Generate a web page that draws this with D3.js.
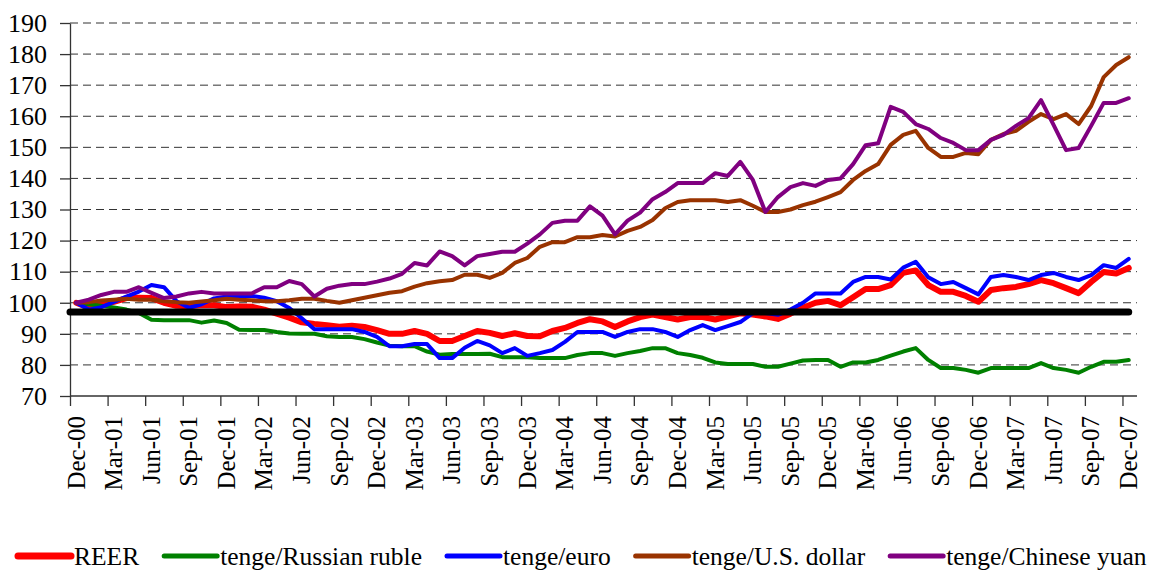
<!DOCTYPE html>
<html>
<head>
<meta charset="utf-8">
<script src="https://cdn.jsdelivr.net/npm/d3@7"></script>
<style>
  body { margin: 0; background: #fff; }
  text { font-family: "Liberation Serif", "Times New Roman", serif; fill: #000; }
</style>
</head>
<body>
<svg width="1153" height="570"></svg>
<script>
// monthly index values, Dec-00 = 100
var months = d3.timeMonth.range(new Date(2000, 11, 1), new Date(2008, 0, 1));
var tickLabels = ['Dec-00','Mar-01','Jun-01','Sep-01','Dec-01','Mar-02','Jun-02','Sep-02','Dec-02','Mar-03','Jun-03','Sep-03','Dec-03','Mar-04','Jun-04','Sep-04','Dec-04','Mar-05','Jun-05','Sep-05','Dec-05','Mar-06','Jun-06','Sep-06','Dec-06','Mar-07','Jun-07','Sep-07','Dec-07'];
var yTicks = [70,80,90,100,110,120,130,140,150,160,170,180,190];

var reer = [100,98.4,99.4,100.3,101.5,101.6,101.5,100,99,98.9,99.3,99.2,98.6,98.8,98.7,97.8,96.5,95.2,93.7,93.2,
  92.8,92.3,92.6,92.2,91.2,90,90,90.9,90,87.7,87.7,89.3,90.9,90.3,89.3,90.2,89.3,89.2,90.9,91.9,
  93.5,94.7,94,92.2,94,95.4,96.2,95.4,94.6,95.4,95.4,94.6,95.6,96.6,96.2,95.6,94.8,96.5,98.4,100,
  100.6,99.2,101.8,104.4,104.4,105.7,109.6,110.4,105.7,103.5,103.5,102.2,100.3,104.1,104.7,105.1,106,107.3,106.3,104.7,
  103.1,106.7,109.9,109.4,111.2];
var ruble = [100,99.5,99,98.5,97.8,96.7,94.5,94.4,94.4,94.4,93.6,94.3,93.5,91.3,91.2,91.2,90.6,90.1,90,90,
  89.2,89,89,88.3,87.2,86.2,86,86,84.3,83.3,83.5,83.5,83.5,83.6,82.5,82.5,82.5,82.2,82.2,82.2,
  83.2,83.8,83.8,82.9,83.8,84.5,85.4,85.4,83.8,83.2,82.3,80.8,80.3,80.3,80.3,79.4,79.4,80.4,81.4,81.6,
  81.6,79.4,80.8,80.8,81.6,83,84.3,85.4,81.6,79,79,78.4,77.5,79,79,79,79,80.6,79,78.4,
  77.5,79.4,81,81,81.6];
var euro = [100,97.8,98.6,100.3,102,103.6,105.7,105,100.5,98.4,99.5,101.4,102,102.2,102.2,101.6,100.5,98.3,95,91.5,
  91.5,91.5,91.5,90.6,89,86,86,86.7,86.7,82.2,82.2,85.5,87.7,86.3,83.8,85.4,82.9,83.8,84.8,87.4,
  90.6,90.6,90.6,89,90.6,91.5,91.5,90.6,89,91.2,92.8,91.2,92.5,93.8,96.7,96.7,96.1,97.8,100,103,
  103,103,106.7,108.3,108.3,107.5,111.3,113.2,108.2,106,106.7,104.7,102.7,108.3,108.9,108.3,107.3,108.9,109.6,108.3,
  107.3,108.9,112.1,111.2,114.1];
var dollar = [100,100.2,100.7,101,101.3,101,101,100.5,100.2,100,100.4,100.8,101.3,101,100.8,100.5,100.5,100.8,101.3,101.3,
  100.6,100,100.8,101.6,102.4,103.2,103.7,105.2,106.3,106.9,107.3,109,109,108,109.6,112.8,114.4,118,119.5,119.5,
  121.1,121.1,121.8,121.3,123.1,124.4,126.6,130.4,132.4,133,133,133,132.4,133,131.2,129.2,129.2,130,131.4,132.5,
  134,135.6,139.5,142.4,144.6,150.8,154,155.3,149.8,146.9,146.9,148.2,147.8,152.4,154.3,155.3,158.2,160.7,159.1,160.7,
  157.5,163.3,172.6,176.5,179];
var yuan = [100,101,102.5,103.5,103.5,105,103.2,101.5,102,103,103.5,103,103,103,103,105,105,107,106,102,
  104.5,105.5,106,106,106.8,107.8,109.3,112.8,112,116.5,115,112,115,115.7,116.4,116.4,119,122,125.7,126.4,
  126.4,131,128,122,126.4,129,133.3,135.6,138.5,138.5,138.5,141.7,140.8,145.3,139.5,129.2,134,137.2,138.5,137.6,
  139.5,140,144.6,150.7,151.3,163,161.4,157.5,155.9,153,151.4,149.1,149.1,152.4,154,156.9,159.4,165.2,157.2,149.1,
  149.8,156.9,164.3,164.3,165.8];
var benchmark = 97;

var seriesNames = ['REER','tenge/Russian ruble','tenge/euro','tenge/U.S. dollar','tenge/Chinese yuan'];
var seriesValues = [reer, ruble, euro, dollar, yuan];
var seriesColors = ['#ff0000','#008000','#0000ff','#993300','#800080'];
var seriesWidths = [6, 4, 4, 4, 4];

var svg = d3.select('svg');

var x = d3.scaleLinear().domain([0, months.length]).range([70, 1135]);
var y = d3.scaleLinear().domain([70, 190]).range([396, 23]);

// gridlines
svg.append('g').selectAll('line').data(yTicks.slice(1)).join('line')
  .attr('x1', 70).attr('x2', 1137)
  .attr('y1', d => y(d)).attr('y2', d => y(d))
  .attr('stroke', '#333').attr('stroke-width', 1).attr('stroke-dasharray', '8,5');

// y axis
var ya = svg.append('g').attr('transform', 'translate(70,0)')
  .call(d3.axisLeft(y).tickValues(yTicks).tickSize(10).tickSizeOuter(0).tickPadding(13));
ya.selectAll('path,line').attr('stroke', '#333').attr('stroke-width', 1.3);
ya.selectAll('text').style('font-size', '26px').attr('fill', '#000');

// x axis: ticks on category boundaries, labels centred on categories
var xa = svg.append('g').attr('transform', 'translate(0,396)')
  .call(d3.axisBottom(x).tickValues(d3.range(0, months.length, 3)).tickSize(10).tickSizeOuter(0).tickFormat(''));
xa.select('path').attr('d', 'M70,0H1137');
xa.selectAll('path,line').attr('stroke', '#333').attr('stroke-width', 1.3);

svg.append('g').selectAll('text').data(tickLabels).join('text')
  .attr('transform', (d, i) => 'translate(' + x(i * 3 + 0.5) + ',416) rotate(-90)')
  .attr('text-anchor', 'end').attr('dy', '0.33em')
  .style('font-size', '25px')
  .text(d => d);

// series
var line = d3.line().x((d, i) => x(i + 0.5)).y(d => y(d));
svg.append('g').selectAll('path').data(seriesValues).join('path')
  .attr('d', d => line(d))
  .attr('fill', 'none')
  .attr('stroke', (d, i) => seriesColors[i])
  .attr('stroke-width', (d, i) => seriesWidths[i])
  .attr('stroke-linejoin', 'round').attr('stroke-linecap', 'round');

// benchmark line
svg.append('line')
  .attr('x1', x(0)).attr('x2', x(months.length - 0.5))
  .attr('y1', y(benchmark)).attr('y2', y(benchmark))
  .attr('stroke', '#000').attr('stroke-width', 7).attr('stroke-linecap', 'round');

// legend
var lg = svg.append('g').attr('transform', 'translate(0,556)');
var lx = 18;
seriesNames.forEach(function(name, i) {
  lg.append('line').attr('x1', lx).attr('x2', lx + 53).attr('y1', 0).attr('y2', 0)
    .attr('stroke', seriesColors[i]).attr('stroke-width', i === 0 ? 7 : 5).attr('stroke-linecap', 'round');
  var t = lg.append('text').attr('x', lx + 56).attr('y', 0).attr('dy', '0.35em')
    .style('font-size', '25.5px').text(name);
  lx += 56 + t.node().getComputedTextLength() + 25;
});
</script>
</body>
</html>
